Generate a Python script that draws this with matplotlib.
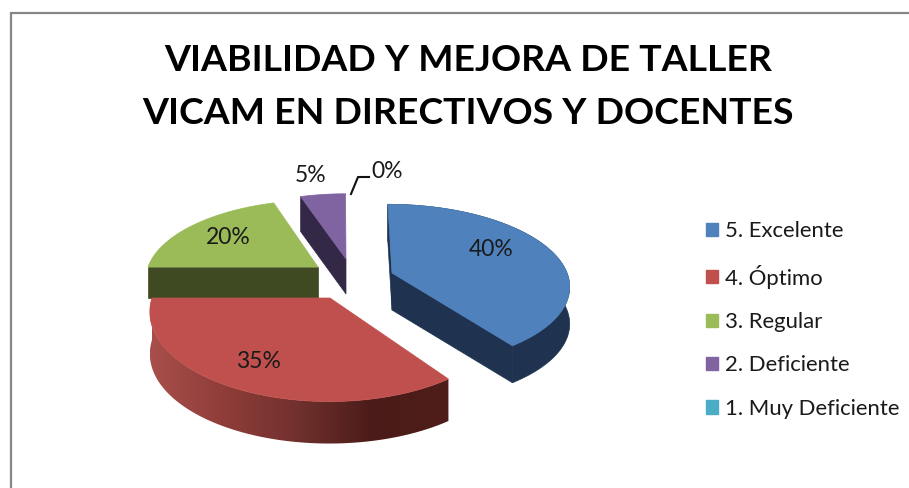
import numpy as np
import matplotlib
matplotlib.use("Agg")
import matplotlib.pyplot as plt
from matplotlib.patches import Polygon, Patch
from matplotlib.colors import LinearSegmentedColormap

plt.rcParams['font.family'] = ['Lato', 'DejaVu Sans']

title = "VIABILIDAD Y MEJORA DE TALLER\nVICAM EN DIRECTIVOS Y DOCENTES"
categories = ["5. Excelente", "4. Óptimo", "3. Regular", "2. Deficiente", "1. Muy Deficiente"]
values = [40, 35, 20, 5, 0]

colors = ["#4f81bd", "#c0504d", "#9bbb59", "#8064a2", "#4bacc6"]
dark = ["#1f3350", "#4a1b18", "#3f4a22", "#332845", "#1e4450"]
# per-slice layout: apex x, apex y, radius x, radius y, depth
layout = [(392, 273, 175, 79, 37), (330, 298, 178, 88, 42),
          (318, 267, 170, 77, 31), (346, 259, 166, 75, 35)]
label_pos = [(491, 250), (258, 362), (228, 237), (311, 175), (387, 172)]
PERSP, SKEW, VX = 0.15, 0.08, 340

fig = plt.figure(figsize=(9.09, 4.88), dpi=100)
ax = fig.add_axes([0, 0, 1, 1])
ax.axis("off")

ax.plot([10.5, 10.5, 915], [495, 13, 13], color="#868686", lw=1.6, solid_joinstyle="miter")

cum = np.cumsum([0] + values) / sum(values) * 2 * np.pi


def pts(i, t):
    cx, cy, rx, ry, _ = layout[i]
    X, Y = np.sin(t), np.cos(t)
    s = 1 / (1 + PERSP * Y)
    return cx + rx * X * s + SKEW * (VX - cx) * Y, cy - ry * Y * s


def top_face(i):
    t = np.linspace(cum[i], cum[i + 1], 160)
    x, y = pts(i, t)
    cx, cy = layout[i][:2]
    return np.column_stack([np.r_[cx, x], np.r_[cy, y]])


def add_poly(xy, color, z):
    p = Polygon(xy, closed=True, fc=color, ec=color, lw=0.5, zorder=z)
    ax.add_patch(p)
    return p


def side_cut(i, t, z):
    cx, cy, *_ , d = layout[i]
    x, y = pts(i, np.array([t]))
    add_poly([(cx, cy), (x[0], y[0]), (x[0], y[0] + d), (cx, cy + d)], dark[i], z)


# draw order: back to front
side_cut(3, cum[3], 1)
add_poly(top_face(3), colors[3], 2)
side_cut(2, cum[2], 3)
add_poly(top_face(2), colors[2], 4)
# blue
d = layout[0][4]
t = np.linspace(cum[0], cum[1], 160)
x, y = pts(0, t)
add_poly(np.column_stack([np.r_[x, x[::-1]], np.r_[y, y[::-1] + d]]), dark[0], 5)
side_cut(0, cum[1], 5)
side_cut(0, cum[0], 5)
add_poly(top_face(0), colors[0], 6)
# red with gradient outer wall
d = layout[1][4]
cmap = LinearSegmentedColormap.from_list(
    "wall", ["#a84f4b", "#8f3d39", "#70302d", "#4a1b18", "#4f1e1b"])
t = np.linspace(cum[1], cum[2], 160)
x, y = pts(1, t)
wall = Polygon(np.column_stack([np.r_[x, x[::-1]], np.r_[y, y[::-1] + d]]), closed=True,
               fc="none", ec="none", transform=ax.transData)
ax.add_patch(wall)
im = ax.imshow(np.linspace(0, 1, 256).reshape(1, -1), cmap=cmap, aspect="auto",
               extent=(x.min(), x.max(), y.max() + d, y.min()), zorder=7, interpolation="bilinear")
im.set_clip_path(wall)
add_poly(top_face(1), colors[1], 8)

ax.set_xlim(0, 909)
ax.set_ylim(488, 0)

# labels
for v, (lx, ly) in zip(values, label_pos):
    ax.text(lx, ly, f"{v}%", fontsize=16.5, color="#1a1a1a", ha="center", va="center", zorder=10)
ax.plot([351, 358, 369], [194, 177, 177], color="#111111", lw=1.5, zorder=10)

ax.text(468, 87, title, fontsize=26.9, fontweight="bold", color="#000000", ha="center",
        va="center", linespacing=1.75)

handles = [Patch(fc=c, ec=c) for c in colors]
ax.legend(handles, categories, loc="center left", bbox_to_anchor=(706, 320),
          bbox_transform=ax.transData, frameon=False, fontsize=15.9, labelcolor="#1a1a1a",
          handlelength=0.54, handleheight=0.54, handletextpad=0.32, labelspacing=1.06,
          borderpad=0, borderaxespad=0)

fig.savefig("out.png", dpi=100)
